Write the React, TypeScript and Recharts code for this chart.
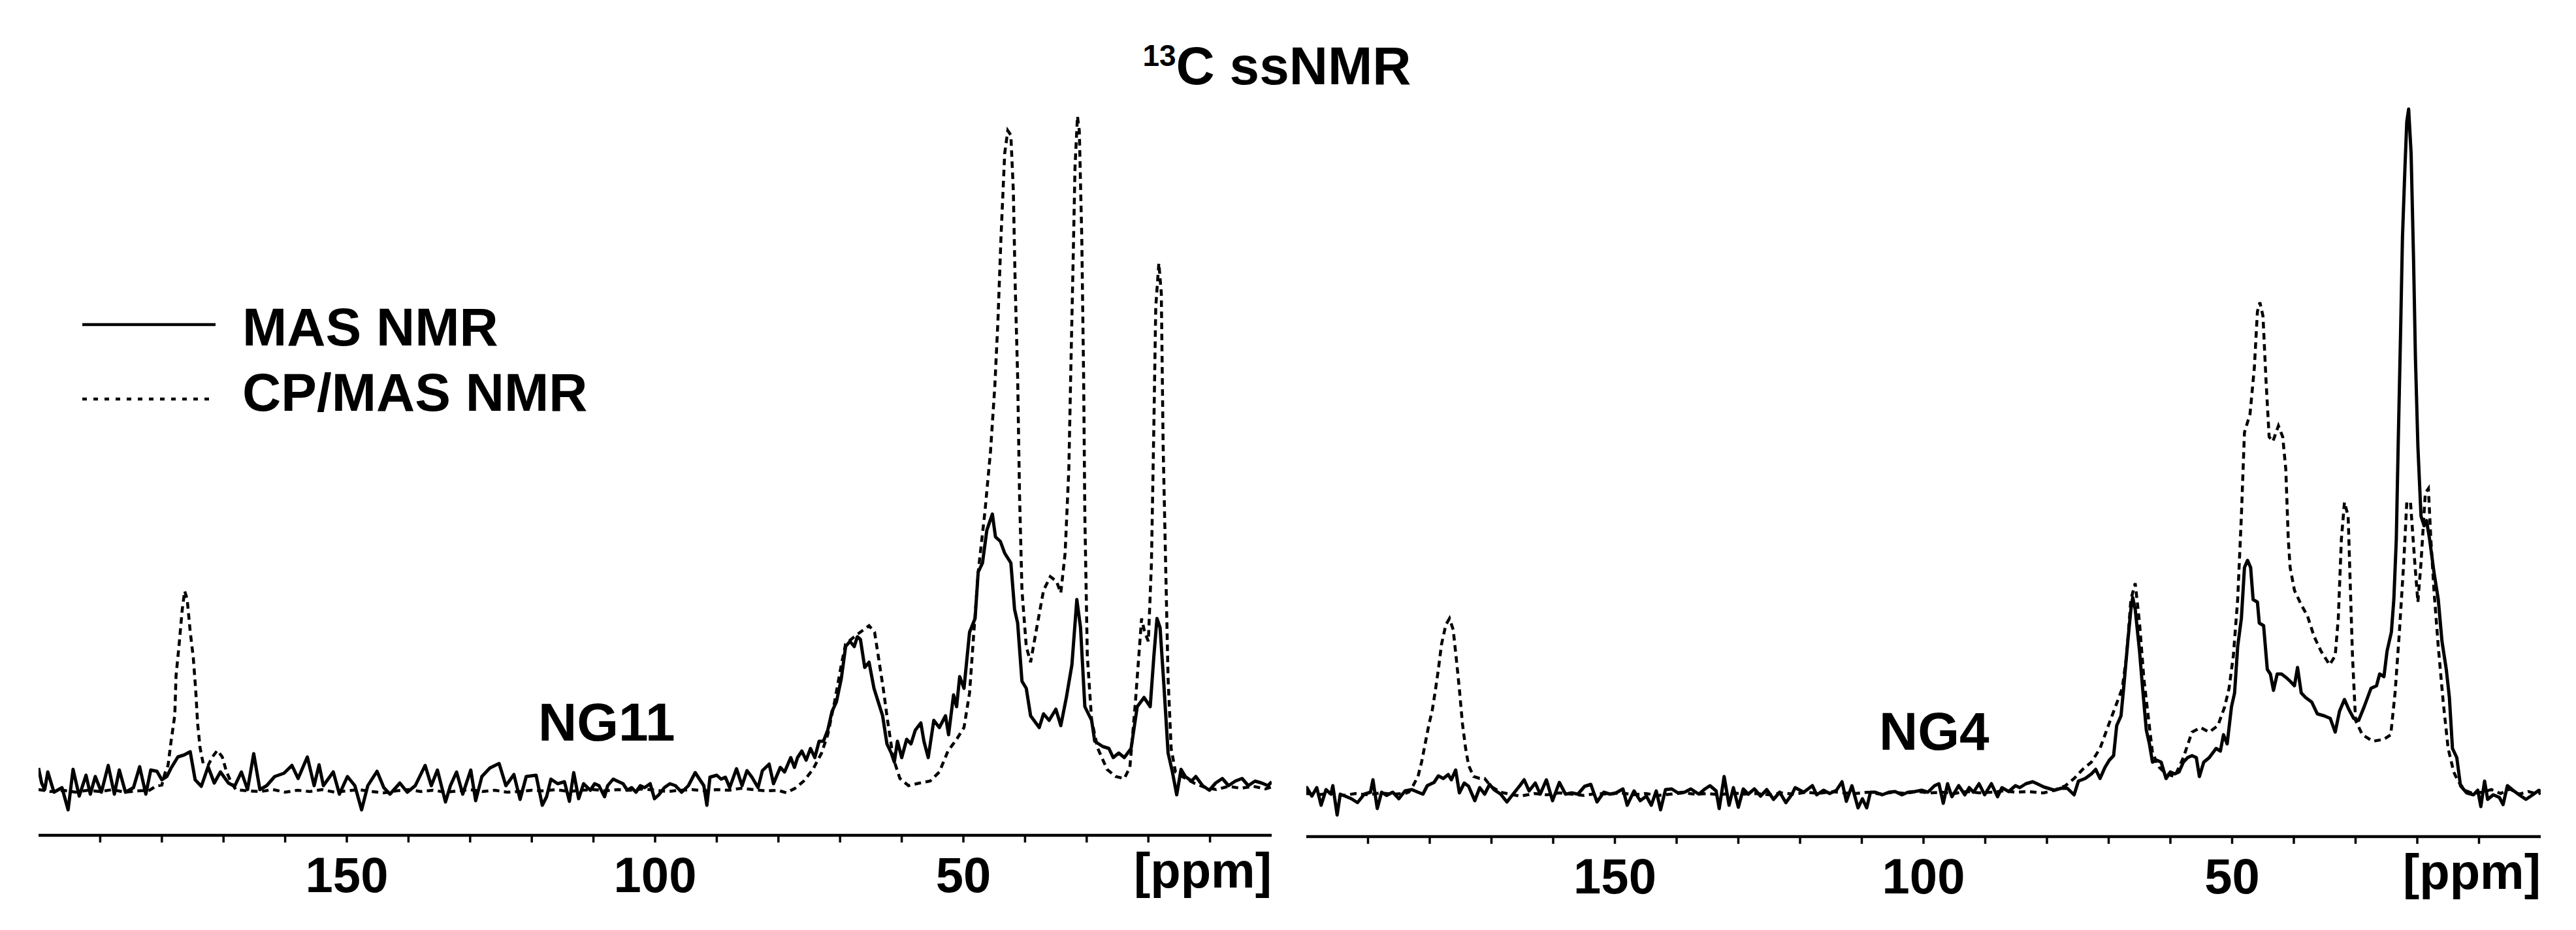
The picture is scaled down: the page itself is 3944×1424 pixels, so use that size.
import { LineChart, Line, XAxis, YAxis } from 'recharts';

// chemical shift axis (ppm), reversed as usual for NMR
const PPM_TICKS = [10, 20, 30, 40, 50, 60, 70, 80, 90, 100, 110, 120, 130, 140, 150, 160, 170, 180, 190];
const PPM_LABELS = [50, 100, 150];

// [ppm, intensity], NG11 sample
const NG11_MAS: [number, number][] = [
  [200, 3.1], [199.5, 0.8], [199, -0.2], [198.5, 2.5], [197.5, -0.6], [196.2, 0.1], [195.2, -3.3], [194.4, 2.9],
  [193.4, -1.2], [192.3, 2.0], [191.6, -0.9], [190.8, 1.8], [189.8, -0.6], [188.7, 3.5], [187.7, -0.9], [186.9, 2.8],
  [185.9, -0.6], [184.6, 0.1], [183.6, 3.3], [182.6, -0.9], [181.8, 2.8], [180.8, 2.6], [180, 1.3], [179.2, 1.8],
  [178.5, 3.1], [177.4, 4.8], [176.4, 5.1], [175.4, 5.6], [174.6, 1.3], [173.6, 0.3], [172.5, 3.3], [171.5, 0.8],
  [170.5, 2.5], [169.2, 0.8], [168.2, 0.3], [167.1, 2.5], [166.1, -0.2], [165.1, 5.3], [164.1, -0.2], [163, 0.4],
  [161.7, 1.8], [160.2, 2.3], [158.9, 3.5], [157.9, 1.5], [156.4, 4.8], [155.3, 0.4], [154.5, 3.6], [153.8, 0.4],
  [152.2, 2.5], [151.2, -0.9], [149.9, 1.8], [148.7, 0.4], [147.6, -3.3], [146.6, 0.4], [145.1, 2.6], [144, 0.1],
  [143, -0.9], [141.4, 0.8], [140.2, -0.6], [138.9, 0.4], [137.3, 3.5], [136.3, 0.4], [135.3, 2.8], [134, -2.1],
  [133.2, 0.4], [132.2, 2.5], [131.2, -0.9], [129.9, 2.8], [129.1, -1.9], [128.1, 1.8], [126.8, 3.1], [125.3, 3.8],
  [124.2, 0.4], [122.9, 2.1], [121.9, -1.7], [120.9, 1.8], [119.3, 2.0], [118.3, -2.6], [117.6, -1.3], [116.9, 1.4],
  [115.8, 0.7], [114.7, 1.0], [113.9, -2.0], [113.2, 2.4], [112.4, -1.6], [111.6, 0.7], [110.5, -0.3], [109.8, 0.7],
  [109.1, 0.4], [108.2, -1.3], [107.7, 0.4], [106.8, 1.4], [105.9, 1.0], [105.2, 0.7], [104.5, -0.3], [103.8, 0.1],
  [103.1, -0.6], [102.4, 0.4], [101.7, 0.1], [100.8, 0.7], [100.1, -1.6], [99.4, -1.0], [98.5, 0.1], [97.6, 0.7],
  [96.7, 0.4], [95.7, -0.6], [94.6, 0.4], [93.5, 2.4], [92.8, 1.4], [92.1, 0.4], [91.6, -2.6], [91.1, 1.7],
  [90, 2.0], [89.3, 1.4], [88.6, 1.7], [87.9, 0.1], [86.8, 3.0], [85.9, 0.4], [85.1, 2.7], [84.3, 1.7],
  [83.3, 0.1], [82.6, 2.7], [81.5, 3.7], [80.8, 0.7], [79.7, 3.2], [79, 2.5], [78.5, 3.6], [78, 4.7],
  [77.4, 3.2], [76.9, 4.7], [76.2, 5.7], [75.5, 4.3], [74.8, 6.1], [74.1, 4.7], [73.4, 7.2], [72.7, 7.2],
  [72, 8.9], [71.3, 11.8], [70.6, 13.2], [69.8, 16.8], [69.1, 21.7], [68.4, 22.5], [67.7, 21.7], [67.2, 23.2],
  [66.7, 22.8], [66, 18.5], [65.3, 19.3], [64.5, 15.3], [63.8, 13.2], [63.1, 11.1], [62.4, 6.8], [61.7, 5.4],
  [61.2, 4.0], [60.7, 7.2], [60, 4.7], [59.2, 7.5], [58.5, 6.8], [57.8, 8.9], [56.9, 10.0], [56.4, 7.2],
  [55.7, 4.7], [54.8, 10.4], [53.9, 9.3], [52.9, 11.1], [52.4, 8.2], [51.6, 14.3], [51.1, 12.5], [50.6, 17.1],
  [49.9, 15.3], [49, 23.9], [48.1, 26.0], [47.6, 33.1], [46.9, 34.5], [46.2, 39.5], [45.3, 42.0], [44.8, 38.5],
  [44, 37.8], [43.3, 36.0], [42.3, 34.5], [41.7, 27.4], [41.2, 25.3], [40.5, 16.4], [39.8, 15.3], [39.1, 11.1],
  [37.7, 9.3], [37, 11.4], [36.1, 10.4], [35, 12.1], [34.2, 9.6], [33.3, 13.9], [32.4, 18.9], [31.6, 28.9],
  [31, 24.6], [30.3, 12.5], [29.2, 10.4], [28.7, 7.2], [27.4, 6.4], [26.4, 6.1], [25.7, 4.7], [24.8, 5.4],
  [23.9, 4.7], [22.8, 6.1], [21.8, 12.5], [20.7, 13.9], [19.7, 12.5], [19.1, 20.3], [18.6, 26.0], [18.1, 24.6],
  [17.5, 16.1], [16.8, 5.4], [16.1, 2.5], [15.4, -1.0], [14.7, 2.9], [14, 1.8], [13, 1.1], [12.3, 1.8],
  [11.2, 0.4], [10.1, -0.3], [9.1, 0.8], [8, 1.5], [7, 0.4], [5.9, 1.1], [4.8, 1.5], [3.8, 0.4],
  [2.7, 1.1], [1.6, 0.8], [0.6, 0.4], [0, 1.0],
];

const NG11_CP: [number, number][] = [
  [200, -0.2], [198, -0.5], [196, -0.3], [194, -0.6], [192, -0.3], [190, -0.5], [188, -0.2], [186, -0.6],
  [184, -0.4], [182, -0.3], [181, 0.3], [180, 0.5], [179.5, 2.3], [179, 3.5], [178.5, 7.2], [177.9, 11.2],
  [177.7, 17.2], [177.2, 22.0], [176.7, 27.3], [176.3, 30.2], [175.9, 29.0], [175.4, 24.0], [174.9, 20.0], [174.5, 14.9],
  [174.2, 9.9], [173.8, 6.2], [173.3, 3.8], [172.5, 3.5], [171.8, 4.8], [171, 5.8], [170.2, 4.8], [169.5, 2.5],
  [168.7, 0.8], [168, -0.2], [166, -0.4], [164, -0.5], [162, -0.2], [160, -0.6], [158, -0.3], [156, -0.5],
  [154, -0.2], [152, -0.6], [150, -0.4], [148, -0.2], [146, -0.5], [144, -0.7], [142, -0.4], [140, -0.2],
  [138, -0.5], [136, -0.3], [134, -0.6], [132, -0.4], [130, -0.2], [128, -0.5], [126, -0.3], [124, -0.6],
  [122, -0.5], [120, -0.3], [118, -0.4], [116, -0.2], [114, -0.5], [112, -0.3], [110, -0.2], [108, -0.4],
  [106, -0.2], [104, -0.3], [102, -0.1], [100, -0.3], [98, -0.5], [96, -0.3], [94, -0.2], [92, -0.4],
  [90, -0.2], [88, -0.3], [86, 0.0], [84, -0.2], [82, -0.4], [80.1, -0.3], [78.7, -0.7], [77.3, 0.0],
  [75.9, 1.1], [74.4, 2.9], [73, 5.4], [72, 8.2], [70.9, 13.2], [69.8, 18.9], [69.1, 22.1], [67.7, 23.2],
  [66.3, 24.2], [65.3, 24.9], [64.4, 23.9], [63.7, 19.6], [63, 15.3], [62.3, 10.4], [61.4, 4.7], [60.3, 1.5],
  [58.9, 0.4], [57.1, 0.8], [55.4, 1.1], [53.9, 2.5], [52.5, 5.7], [51.1, 7.5], [49.9, 9.3], [49, 14.6],
  [48.3, 23.9], [47.6, 33.1], [46.5, 42.4], [45.6, 51.6], [44.9, 61.6], [44.4, 71.5], [43.9, 84.4], [43.3, 97.2],
  [42.8, 100.7], [42.3, 100.0], [41.9, 91.5], [41.6, 77.2], [41.2, 63.0], [40.9, 45.2], [40.5, 30.3], [39.8, 21.7],
  [39.1, 19.3], [38.1, 24.6], [37, 30.3], [35.9, 32.4], [34.9, 31.7], [34.2, 29.9], [33.5, 36.0], [32.9, 48.8],
  [32.6, 63.0], [32.2, 80.8], [31.9, 95.0], [31.5, 102.9], [31.2, 100.7], [30.8, 84.4], [30.5, 63.0], [30.3, 41.7],
  [29.9, 20.3], [29.2, 10.4], [28.2, 6.1], [26.7, 2.9], [25.3, 1.8], [23.9, 1.5], [23, 3.2], [22.1, 13.2],
  [21.1, 26.0], [20.6, 23.9], [20, 22.5], [19.5, 34.5], [19.1, 55.9], [18.8, 73.7], [18.3, 80.4], [17.9, 75.8],
  [17.6, 52.3], [17.2, 34.5], [16.8, 16.8], [16.3, 6.1], [15.6, 2.5], [14.5, 1.8], [12.6, 0.8], [11, 0.2],
  [9, -0.2], [7, 0.3], [5, 0.0], [3, 0.3], [1, -0.1], [0, 0.2],
];

// NG4 sample
const NG4_MAS: [number, number][] = [
  [200, -1.0], [199.9, 0.1], [199.1, -1.2], [198.3, 0.1], [197.6, -2.6], [196.8, -0.2], [196, -0.9], [195.7, 0.4],
  [195, -4.1], [194.5, -0.9], [193.7, -1.2], [192.7, -1.6], [191.7, -2.2], [190.6, -0.9], [189.6, -0.6], [189.2, 1.3],
  [188.5, -3.1], [187.8, -0.6], [187, -1.1], [186, -0.6], [185, -1.6], [184, -0.4], [182.9, -0.2], [181.9, -0.6],
  [181.1, -0.9], [180.4, 0.4], [179.3, 0.9], [178.6, 1.9], [177.8, 1.5], [177, 2.1], [176.5, 1.3], [175.8, 2.8],
  [175.2, -0.7], [174.4, 0.8], [173.7, 0.3], [172.7, -1.9], [171.9, 0.1], [171.1, -0.9], [170.3, 0.6], [169.6, -0.2],
  [168.5, -0.9], [167.5, -2.1], [166.5, -0.9], [165.4, 0.4], [164.7, 1.3], [163.9, -0.4], [162.9, 0.8], [162.1, -0.9],
  [161.1, 1.3], [160.1, -1.9], [159, 0.9], [158, -0.9], [157, -0.7], [156, -0.9], [154.9, 0.3], [153.9, 0.6],
  [152.9, -2.1], [151.8, -0.6], [150.8, -0.9], [149.8, -0.7], [148.7, -0.1], [148, -2.6], [146.9, -0.4], [145.9, -1.9],
  [144.9, -1.2], [144.1, -2.6], [143.3, -0.4], [142.6, -3.3], [141.8, -0.2], [140.8, -0.1], [139.8, -0.7], [138.7, -0.6],
  [137.7, -0.1], [136.4, -0.9], [135.4, -0.1], [134.6, 0.4], [133.6, -0.4], [133.1, -3.1], [132.3, 1.8], [131.5, -2.6],
  [130.8, 0.1], [130, -2.9], [129.2, -0.1], [128.4, -0.9], [127.4, -0.1], [126.4, -1.2], [125.4, -0.2], [124.3, -1.7],
  [123.3, -0.6], [122.3, -2.2], [121.3, -0.9], [120.8, 0.1], [119.4, -0.6], [118, 0.4], [117.3, -1.0], [116.2, -0.3],
  [115.2, -0.8], [114.1, -0.3], [113.2, 1.0], [112.5, -2.0], [111.6, 0.4], [110.6, -3.0], [109.9, -1.6], [109.2, -3.0],
  [108.6, -0.6], [107.8, -0.6], [106.7, -1.0], [105.6, -0.6], [104.6, -0.5], [103.5, -1.0], [102.5, -0.6], [101.4, -0.5],
  [100.3, -0.3], [99.3, -0.6], [98.2, 0.4], [97.5, 0.7], [96.8, -2.3], [96.1, 0.7], [95.4, -1.3], [94.3, 0.4],
  [93.3, -1.0], [92.6, 0.1], [91.9, -0.6], [91, 0.7], [90.1, -1.0], [89, 0.7], [88, -1.3], [87.3, 0.1],
  [86.2, -0.5], [85.1, 0.4], [84.4, 0.1], [83.4, 0.7], [82.3, 1.0], [81.6, 0.7], [80.5, 0.2], [79.8, 0.0],
  [78.8, -0.3], [77.7, 0.0], [76.7, 0.0], [75.6, -1.0], [74.9, 1.1], [73.8, 1.5], [72.8, 2.2], [72.1, 2.9],
  [71.4, 1.5], [70.6, 3.2], [69.9, 4.3], [69.2, 5.0], [68.7, 9.6], [68, 11.1], [67.5, 16.1], [66.9, 22.5],
  [66.4, 27.4], [66.1, 29.2], [65.7, 27.4], [65, 21.0], [64.5, 15.3], [63.9, 8.9], [63.4, 6.8], [62.9, 4.0],
  [62.2, 4.3], [61.5, 4.0], [60.7, 1.5], [60, 2.5], [59.3, 2.2], [58.6, 2.5], [57.9, 4.0], [57.2, 4.7],
  [56.5, 5.0], [55.8, 4.7], [55.3, 1.8], [54.6, 4.0], [53.7, 4.7], [52.6, 6.1], [51.9, 5.7], [51.4, 8.2],
  [50.8, 6.8], [50.1, 12.5], [49.6, 14.6], [49.1, 21.7], [48.5, 26.0], [48, 33.8], [47.5, 34.9], [47, 33.8],
  [46.6, 28.9], [45.9, 28.5], [45.6, 25.3], [44.9, 24.9], [44.3, 18.2], [43.8, 17.5], [43.3, 15.0], [42.7, 17.5],
  [42, 17.5], [41.3, 17.0], [40.6, 16.4], [39.9, 15.7], [39.4, 18.5], [38.8, 14.6], [38.1, 13.9], [37.1, 13.2],
  [36.2, 11.4], [35.1, 11.1], [34.1, 10.7], [33.3, 8.6], [32.6, 11.8], [31.8, 13.6], [31.1, 12.1], [30.3, 10.7],
  [29.5, 10.4], [28.6, 12.5], [27.5, 15.3], [26.6, 15.7], [26.1, 17.5], [25.4, 17.1], [24.9, 21.0], [24.2, 23.9],
  [23.8, 28.9], [23.4, 38.1], [23.1, 52.3], [22.7, 70.1], [22.4, 84.4], [22, 95.0], [21.7, 102.1], [21.4, 104.0],
  [21, 97.2], [20.6, 80.8], [20.3, 65.9], [19.9, 52.3], [19.4, 41.7], [18.9, 40.2], [18.5, 41.0], [18, 38.1],
  [17.3, 33.1], [16.6, 28.9], [16, 22.5], [15.3, 18.2], [14.8, 13.9], [14.3, 6.1], [13.6, 4.7], [13, 0.4],
  [12, -0.7], [10.9, -1.0], [10.2, -0.3], [9.7, -2.8], [9.1, 1.1], [8.6, -1.7], [7.7, -1.0], [6.7, -1.4],
  [6.1, -2.5], [5.4, 0.4], [4.5, -0.3], [3.5, -1.0], [2.4, -1.7], [1.3, -1.0], [0.3, -0.3], [0, -0.5],
];

const NG4_CP: [number, number][] = [
  [200, -0.8], [198, -1.0], [196, -0.7], [194, -1.1], [192, -0.8], [190, -1.0], [188, -0.7], [186, -0.9],
  [184, -0.8], [183.4, -0.6], [182.7, 0.4], [181.9, 1.8], [181.3, 4.1], [180.6, 7.5], [180.1, 9.9], [179.6, 11.9],
  [179.1, 14.9], [178.6, 18.2], [178.1, 22.0], [177.4, 25.0], [176.8, 26.0], [176.2, 24.3], [175.7, 19.9], [175.2, 15.2],
  [174.7, 9.9], [174.2, 6.2], [173.7, 3.5], [172.9, 1.8], [171.9, 1.5], [171.1, 1.5], [170.1, 0.3], [168.5, -0.6],
  [167, -0.9], [165.4, -1.2], [163, -0.8], [161, -1.0], [159, -0.7], [157, -0.9], [155, -1.1], [153, -0.8],
  [151, -0.9], [149, -0.7], [147, -1.0], [145, -0.8], [143, -1.1], [141, -0.9], [139, -0.7], [137, -0.9],
  [135, -0.8], [133, -1.0], [131, -0.7], [129, -0.9], [127, -0.8], [125, -1.0], [123, -0.7], [121, -0.9],
  [119, -0.6], [117, -0.8], [115, -0.5], [113, -0.7], [111, -0.8], [109, -0.6], [107, -0.9], [105, -0.6],
  [103, -0.8], [101, -0.5], [99, -0.7], [97, -0.6], [95, -0.8], [93, -0.5], [91, -0.7], [89, -0.6],
  [87, -0.4], [85, -0.6], [83, -0.5], [81, -0.7], [80.5, -0.7], [78.8, -0.3], [77, 0.4], [75.6, 1.5],
  [74.2, 2.9], [72.8, 4.0], [71.4, 6.1], [69.9, 10.0], [68.9, 12.5], [67.8, 15.3], [67.1, 20.3], [66.4, 28.9],
  [65.7, 31.4], [65, 25.3], [64.3, 16.8], [63.6, 11.1], [62.9, 5.4], [61.8, 3.2], [60.7, 2.2], [59.3, 1.8],
  [57.9, 4.7], [56.5, 8.6], [55.1, 9.3], [53.7, 8.6], [52.3, 9.6], [51.2, 12.5], [50.5, 15.3], [49.8, 20.3],
  [49.1, 28.9], [48.5, 41.7], [48, 54.5], [47.1, 57.3], [46.4, 64.4], [45.9, 73.0], [45.5, 74.4], [45, 72.3],
  [44.5, 62.3], [44, 53.8], [43.4, 53.1], [42.5, 55.5], [41.8, 53.8], [41.3, 48.8], [40.9, 38.1], [40.6, 33.8],
  [39.9, 30.3], [38.8, 28.1], [37.8, 26.4], [36.7, 23.2], [35.6, 21.0], [34.2, 18.9], [33.3, 20.3], [32.8, 26.0],
  [32.3, 38.1], [31.8, 43.8], [31.2, 41.7], [30.9, 32.4], [30.5, 20.3], [30, 10.4], [28.9, 8.2], [27.2, 7.2],
  [25.4, 7.5], [24.3, 8.2], [23.6, 14.6], [22.9, 23.9], [22.2, 34.5], [21.7, 43.8], [21.1, 43.8], [20.4, 34.5],
  [19.9, 28.5], [19.4, 34.5], [18.7, 45.2], [18.2, 45.9], [17.8, 38.1], [17.3, 30.3], [16.6, 21.7], [15.8, 13.2],
  [15, 6.1], [14.1, 2.5], [13.4, 1.1], [12.3, -0.3], [11, -0.8], [9.5, -0.6], [8, -0.2], [6.5, -0.8],
  [5, -0.1], [3.5, -0.9], [2, -0.5], [0.5, -0.9], [0, -0.7],
];

const toRows = (pts: [number, number][]) => pts.map(([ppm, v]) => ({ ppm, v }));

const FONT = "'Liberation Sans', Arial, Helvetica, sans-serif";

const PpmTick = (props: any) => {
  const { x, y, payload } = props;
  if (!PPM_LABELS.includes(payload.value)) return <g />;
  return (
    <text x={x} y={y + 76} textAnchor="middle" fontSize={76} fontWeight="bold" fontFamily={FONT} fill="#000">
      {payload.value}
    </text>
  );
};

const PpmUnit = (props: any) => {
  const vb = props.viewBox || { x: 0, y: 0, width: 0 };
  return (
    <text x={vb.x + vb.width} y={vb.y + 80} textAnchor="end" fontSize={76} fontWeight="bold" fontFamily={FONT} fill="#000">
      [ppm]
    </text>
  );
};

type PanelProps = {
  left: number;
  mas: [number, number][];
  cp: [number, number][];
  margin: { top: number; right: number; bottom: number; left: number };
  yDomain: [number, number];
};

function Panel({ left, mas, cp, margin, yDomain }: PanelProps) {
  return (
    <div style={{ position: 'absolute', left, top: 0 }}>
      <LineChart width={1972} height={1424} margin={margin}>
        <XAxis
          type="number"
          dataKey="ppm"
          domain={[0, 200]}
          reversed
          allowDataOverflow
          ticks={PPM_TICKS}
          interval={0}
          height={100}
          tickSize={11}
          tickMargin={0}
          axisLine={{ stroke: '#000', strokeWidth: 4.5 }}
          tickLine={{ stroke: '#000', strokeWidth: 3.5 }}
          tick={(p: any) => <PpmTick {...p} />}
          label={{ content: PpmUnit }}
        />
        <YAxis hide type="number" domain={yDomain} allowDataOverflow />
        <Line
          data={toRows(cp)}
          dataKey="v"
          type="linear"
          stroke="#000"
          strokeWidth={4.5}
          strokeDasharray="10 7"
          dot={false}
          isAnimationActive={false}
        />
        <Line
          data={toRows(mas)}
          dataKey="v"
          type="linear"
          stroke="#000"
          strokeWidth={5}
          strokeLinejoin="round"
          dot={false}
          isAnimationActive={false}
        />
      </LineChart>
    </div>
  );
}

export default function App() {
  return (
    <div style={{ position: 'absolute', left: 0, top: 0, width: 3944, height: 1424, background: '#fff', overflow: 'hidden' }}>
      <Panel left={0} mas={NG11_MAS} cp={NG11_CP} margin={{ top: 160, right: 25, bottom: 45, left: 59 }} yDomain={[-7.2, 104.7]} />
      <Panel left={1972} mas={NG4_MAS} cp={NG4_CP} margin={{ top: 160, right: 54, bottom: 43, left: 28 }} yDomain={[-7.4, 104.7]} />
      <svg width={3944} height={1424} style={{ position: 'absolute', left: 0, top: 0, pointerEvents: 'none' }} fontFamily={FONT} fontWeight="bold">
        <text x={1955} y={129} textAnchor="middle" fontSize={82}>
          <tspan fontSize={46} dy={-28}>13</tspan>
          <tspan dy={28}>C ssNMR</tspan>
        </text>
        <line x1={126} y1={497} x2={330} y2={497} stroke="#000" strokeWidth={4.5} />
        <text x={371} y={529} fontSize={82}>MAS NMR</text>
        <line x1={126} y1={611} x2={330} y2={611} stroke="#000" strokeWidth={4.5} strokeDasharray="7 10" />
        <text x={371} y={629} fontSize={82}>CP/MAS NMR</text>
        <text x={824} y={1134} fontSize={82}>NG11</text>
        <text x={2877} y={1148} fontSize={82}>NG4</text>
      </svg>
    </div>
  );
}
